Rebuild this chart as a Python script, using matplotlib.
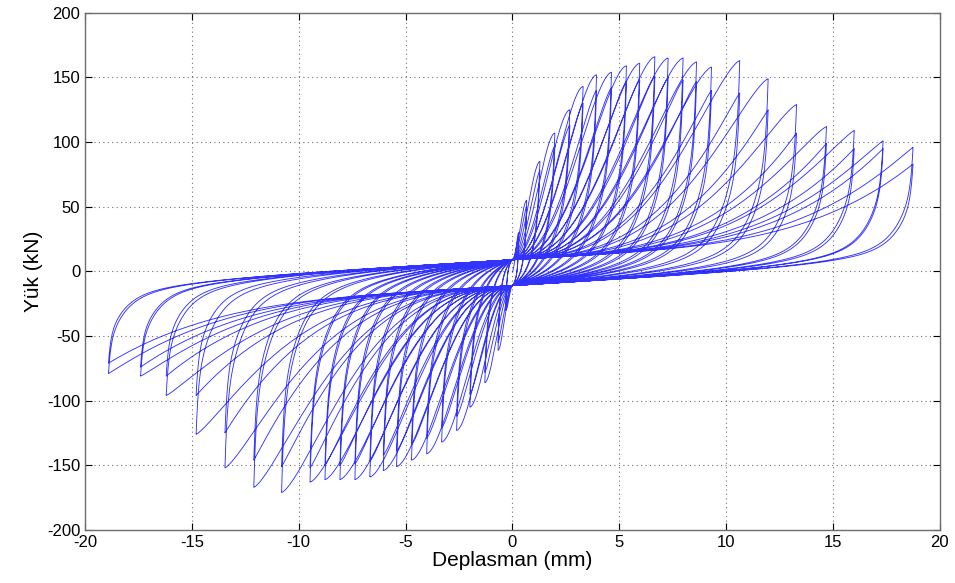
import numpy as np
import matplotlib
matplotlib.use("Agg")
import matplotlib.pyplot as plt

plt.rcParams['font.family'] = ['Liberation Sans', 'DejaVu Sans']
plt.rcParams['axes.unicode_minus'] = False

# Cyclic test record: target displacement of each amplitude step (mm)
disp_pos = [0.30, 0.67, 1.29, 1.99, 2.69, 3.31, 3.94, 4.64, 5.34, 5.96, 6.67,
            7.29, 7.99, 8.62, 9.32, 10.64, 11.97, 13.30, 14.70, 16.00, 17.35, 18.75]
disp_neg = [-0.30, -0.67, -1.29, -1.99, -2.61, -3.31, -4.01, -4.72, -5.42, -6.04, -6.67,
            -7.37, -8.07, -8.77, -9.47, -10.80, -12.10, -13.45, -14.80, -16.20, -17.40, -18.90]

# Peak loads (kN): first and repeated cycle at each amplitude
load_pos_1 = [30, 55, 85, 107, 125, 143, 152, 154, 159, 161, 166,
              165, 165, 162, 158, 163, 149, 129, 112, 109, 101, 96]
load_pos_2 = [27, 50, 78, 97, 113, 130, 140, 142, 147, 148, 151,
              150, 148, 147, 140, 138, 125, 107, 99, 95, 95, 83]
load_neg_1 = [-30, -61, -86, -105, -123, -132, -141, -146, -151, -154, -159,
              -161, -161, -161, -163, -171, -167, -152, -126, -96, -81, -79]
load_neg_2 = [-27, -55, -78, -95, -112, -121, -129, -134, -139, -142, -147,
              -149, -150, -150, -152, -151, -146, -125, -96, -81, -74, -71]

PINCH_UP = 9.0      # load at zero displacement when reloading toward +
PINCH_LO = -11.0    # load at zero displacement when reloading toward -
PINCH_K = 1.0       # slope of the pinched (slip) branch, kN/mm
N = 200


def loading_branch(d, F, y0, repeat):
    """Reloading from the pinch point (0, y0) to the peak (d, F)."""
    ad = abs(d)
    x = np.linspace(0.0, d, N)
    t = x / d
    b = 1.8 + ad / 8.0
    a = max(1.0, 2.0 - ad / 20.0)
    if repeat:
        a = max(1.0, 0.75 * a)
    base = y0 + PINCH_K * x
    s = 1.0 - (1.0 - t ** b) ** a
    return x, base + (F - (y0 + PINCH_K * d)) * s


def unloading_branch(d, F, y0):
    """Unloading from the peak (d, F) down to the pinch point (0, y0)."""
    ad = abs(d)
    u = np.linspace(0.0, 1.0, N)
    delta = ad * u ** 2.5
    l1 = min(0.1, 0.07 * ad)
    l2 = min(0.7, 0.25 * ad)
    l3 = min(3.0, 0.6 * ad)

    def r_of(dl):
        return 0.3 * np.exp(-dl / l1) + 0.5 * np.exp(-dl / l2) + 0.2 * np.exp(-dl / l3)

    # decay from 1 at the peak to 0 at the pinch point
    r = r_of(delta) - r_of(ad) * delta / ad
    x = d - np.sign(d) * delta
    base = y0 + PINCH_K * x
    return x, base + (F - (y0 + PINCH_K * d)) * r


xs, ys = [np.array([0.0])], [np.array([0.0])]
first = True
for dp, dn, fp1, fp2, fn1, fn2 in zip(disp_pos, disp_neg, load_pos_1, load_pos_2,
                                      load_neg_1, load_neg_2):
    for fp, fn, rep in ((fp1, fn1, False), (fp2, fn2, True)):
        y_start = 0.0 if first else PINCH_UP
        first = False
        for seg in (loading_branch(dp, fp, y_start, rep),
                    unloading_branch(dp, fp, PINCH_LO),
                    loading_branch(dn, fn, PINCH_LO, rep),
                    unloading_branch(dn, fn, PINCH_UP)):
            xs.append(seg[0])
            ys.append(seg[1])

x_all = np.concatenate(xs)
y_all = np.concatenate(ys)

fig = plt.figure(figsize=(9.55, 5.83), dpi=100)
ax = fig.add_axes([0.089, 0.091, 0.895, 0.887])
ax.plot(x_all, y_all, color=(0.0, 0.0, 1.0), lw=0.65, alpha=0.8)

ax.set_xlim(-20, 20)
ax.set_ylim(-200, 200)
ax.set_xticks(np.arange(-20, 21, 5))
ax.set_yticks(np.arange(-200, 201, 50))
ax.grid(True, linestyle=(0, (1, 3)), color='#707070', linewidth=0.8)
ax.tick_params(direction='in', top=True, right=True, length=5, width=0.8,
               labelsize=12, colors='#000000')
for sp in ax.spines.values():
    sp.set_color('#6e6e6e')
    sp.set_linewidth(1.0)

ax.set_xlabel('Deplasman (mm)', fontsize=15, labelpad=1)
ax.set_ylabel('Yük (kN)', fontsize=15, labelpad=3)

fig.savefig('out.png', dpi=100)
